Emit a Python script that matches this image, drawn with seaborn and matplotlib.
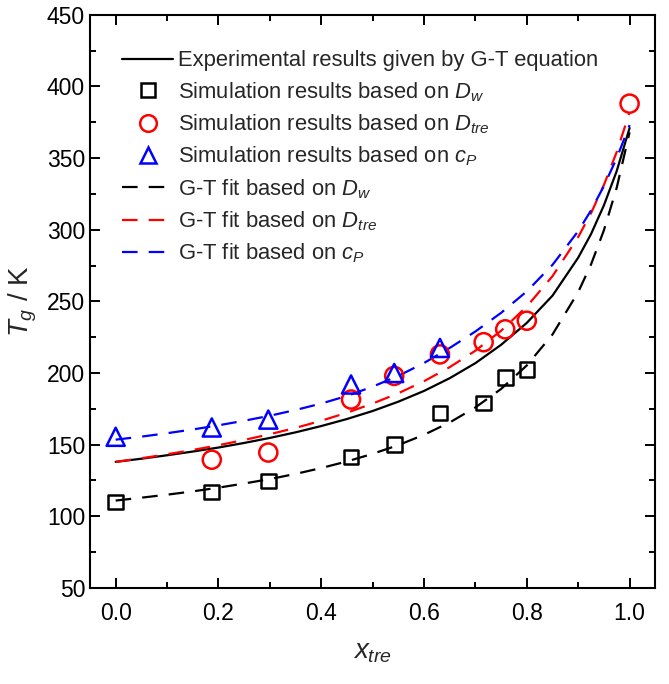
import numpy as np
import pandas as pd
import matplotlib
matplotlib.use('Agg')
import matplotlib.pyplot as plt
from matplotlib.lines import Line2D
import seaborn as sns

# simulation points
x_dw = [0.0, 0.187, 0.297, 0.458, 0.542, 0.631, 0.716, 0.758, 0.800]
tg_dw = [110, 117, 124.5, 141.5, 150, 172, 179, 197, 202.5]

x_dtre = [0.187, 0.297, 0.458, 0.542, 0.631, 0.716, 0.758, 0.800, 1.0]
tg_dtre = [139.5, 144.5, 181.5, 198, 213, 221.5, 230.5, 236.5, 388]

x_cp = [0.0, 0.187, 0.297, 0.458, 0.542, 0.631]
tg_cp = [155.5, 162, 167.5, 192, 200, 217.5]

# curves
x_curve = [0.0, 0.05, 0.1, 0.15, 0.2, 0.25, 0.3, 0.35, 0.4, 0.45, 0.5, 0.55, 0.6,
           0.65, 0.7, 0.75, 0.8, 0.85, 0.9, 0.925, 0.95, 0.975, 1.0]
tg_exp = [138, 140.2, 142.6, 145.2, 148.0, 151.2, 154.7, 158.6, 163.0, 167.9, 173.5,
          180.0, 187.5, 196.4, 206.9, 219.7, 235.0, 254.0, 280.5, 297.0, 317.0, 341.0, 371]
tg_fit_dw = [111, 113.0, 115.1, 117.4, 120.0, 122.9, 126.0, 129.6, 133.7, 138.3, 143.6,
             149.7, 156.9, 165.5, 176.0, 188.9, 205.3, 226.9, 256.5, 275.8, 299.6, 329.4, 368]
tg_fit_dtre = [138, 140.5, 143.3, 146.3, 149.6, 153.3, 157.3, 161.7, 166.7, 172.3, 178.7,
               185.9, 194.3, 204.1, 215.6, 229.5, 246.4, 267.6, 294.9, 311.6, 331.2, 354.3, 382]
tg_fit_cp = [153.5, 155.6, 158.0, 160.6, 163.5, 166.7, 170.2, 174.2, 178.7, 184.0, 190.5,
             198.0, 207.0, 217.5, 229.0, 242.0, 257.0, 275.5, 299.0, 313.5, 330.5, 350.0, 373]

sns.set_style('ticks')
plt.rcParams['font.family'] = ['Liberation Sans', 'DejaVu Sans']
plt.rcParams['mathtext.fontset'] = 'custom'
plt.rcParams['mathtext.rm'] = 'Liberation Sans'
plt.rcParams['mathtext.it'] = 'Liberation Sans:italic'

fig = plt.figure(figsize=(6.69, 6.84), dpi=100)
ax = fig.add_axes([0.1345, 0.1404, 0.845, 0.838])

curves = pd.DataFrame({'x': x_curve, 'exp': tg_exp, 'dw': tg_fit_dw,
                       'dtre': tg_fit_dtre, 'cp': tg_fit_cp})
dash = (7, 5)
sns.lineplot(data=curves, x='x', y='exp', color='black', lw=1.6, ax=ax,
             sort=False, estimator=None)
sns.lineplot(data=curves, x='x', y='dw', color='black', lw=1.6, ax=ax,
             sort=False, estimator=None, linestyle=(0, dash))
sns.lineplot(data=curves, x='x', y='dtre', color='red', lw=1.6, ax=ax,
             sort=False, estimator=None, linestyle=(0, dash))
sns.lineplot(data=curves, x='x', y='cp', color='blue', lw=1.6, ax=ax,
             sort=False, estimator=None, linestyle=(0, dash))

sns.scatterplot(x=x_dw, y=tg_dw, marker='s', s=110, facecolors='none',
                edgecolor='black', linewidth=1.8, ax=ax, zorder=5)
sns.scatterplot(x=x_dtre, y=tg_dtre, marker='o', s=170, facecolors='none',
                edgecolor='red', linewidth=1.8, ax=ax, zorder=5)
sns.scatterplot(x=x_cp, y=tg_cp, marker='^', s=170, facecolors='none',
                edgecolor='blue', linewidth=1.8, ax=ax, zorder=5)

ax.set_xlim(-0.05, 1.05)
ax.set_ylim(50, 450)
ax.set_xticks(np.arange(0, 1.01, 0.2))
ax.set_xticks(np.arange(0.1, 1.0, 0.2), minor=True)
ax.set_yticks(np.arange(50, 451, 50))
ax.set_yticks(np.arange(75, 450, 50), minor=True)
ax.xaxis.set_major_formatter(matplotlib.ticker.FormatStrFormatter('%.1f'))
ax.tick_params(which='both', direction='in', top=True, right=True, labelsize=16.5,
               width=1.4, colors='black')
ax.tick_params(which='major', length=7)
ax.tick_params(which='minor', length=4)
ax.tick_params(axis='x', pad=10)
for sp in ax.spines.values():
    sp.set_linewidth(1.5)
    sp.set_color('black')

ax.set_xlabel(r'$x_{tre}$', fontsize=20, labelpad=10)
ax.set_ylabel(r'$T_g$ / K', fontsize=20, labelpad=6)

handles = [
    Line2D([], [], color='black', lw=1.6),
    Line2D([], [], color='black', marker='s', ms=10, mfc='none', mew=1.8, ls='none'),
    Line2D([], [], color='red', marker='o', ms=12, mfc='none', mew=1.8, ls='none'),
    Line2D([], [], color='blue', marker='^', ms=12, mfc='none', mew=1.8, ls='none'),
    Line2D([], [], color='black', lw=1.6, ls=(0, dash)),
    Line2D([], [], color='red', lw=1.6, ls=(0, dash)),
    Line2D([], [], color='blue', lw=1.6, ls=(0, dash)),
]
labels = [
    'Experimental results given by G-T equation',
    r'Simulation results based on $D_w$',
    r'Simulation results based on $D_{tre}$',
    r'Simulation results based on $c_P$',
    r'G-T fit based on $D_w$',
    r'G-T fit based on $D_{tre}$',
    r'G-T fit based on $c_P$',
]
ax.legend(handles, labels, loc='upper left', bbox_to_anchor=(0.03, 0.965),
          frameon=False, fontsize=15.8, handlelength=2.3, handletextpad=0.25,
          labelspacing=0.4, borderpad=0.2)

fig.savefig('out.png', dpi=100)
